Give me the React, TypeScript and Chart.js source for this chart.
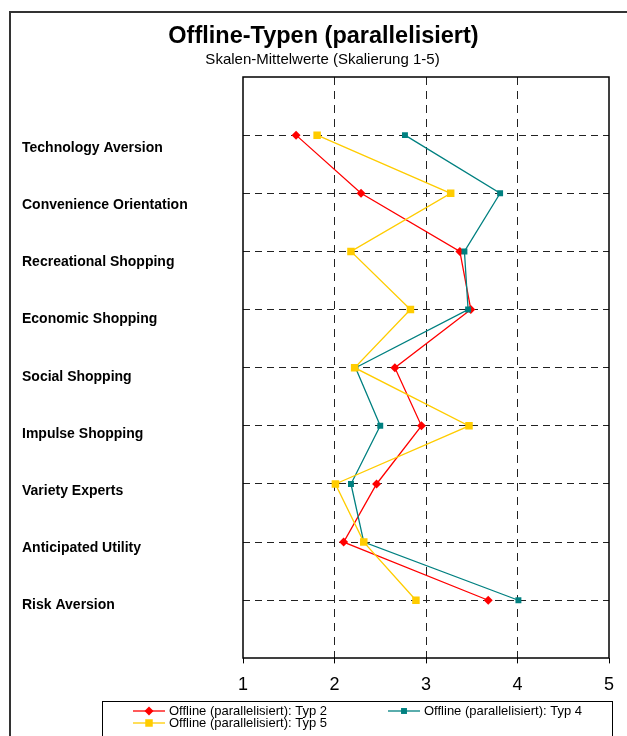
import React, { useEffect, useRef } from "react";
import { Chart, registerables } from "chart.js";

Chart.register(...registerables);

const FONT = '"Liberation Sans", Arial, Helvetica, sans-serif';

const categories = [
  "Technology Aversion",
  "Convenience Orientation",
  "Recreational Shopping",
  "Economic Shopping",
  "Social Shopping",
  "Impulse Shopping",
  "Variety Experts",
  "Anticipated Utility",
  "Risk Aversion",
];

const typ2 = [1.58, 2.29, 3.37, 3.49, 2.66, 2.95, 2.46, 2.1, 3.68];
const typ4 = [2.77, 3.81, 3.42, 3.46, 2.23, 2.5, 2.18, 2.32, 4.01];
const typ5 = [1.81, 3.27, 2.18, 2.83, 2.22, 3.47, 2.01, 2.32, 2.89];

const seriesNames = [
  "Offline (parallelisiert): Typ 2",
  "Offline (parallelisiert): Typ 4",
  "Offline (parallelisiert): Typ 5",
];
const seriesColors = ["#FF0000", "#008080", "#FFCC00"];
const seriesShapes = ["rectRot", "rect", "rect"];
const seriesRadius = [4.5, 4.2, 5.3];

const xTicks = [1, 2, 3, 4, 5];

const titleText = "Offline-Typen (parallelisiert)";
const subtitleText = "Skalen-Mittelwerte (Skalierung 1-5)";

function toPoints(values: number[]) {
  return values.map((v, i) => ({ x: v, y: i + 1 }));
}

function drawMarker(ctx: CanvasRenderingContext2D, shape: string, x: number, y: number, r: number, color: string) {
  ctx.save();
  ctx.fillStyle = color;
  ctx.beginPath();
  if (shape === "rectRot") {
    ctx.moveTo(x - r, y);
    ctx.lineTo(x, y - r);
    ctx.lineTo(x + r, y);
    ctx.lineTo(x, y + r);
    ctx.closePath();
  } else {
    const s = Math.SQRT1_2 * r;
    ctx.rect(x - s, y - s, 2 * s, 2 * s);
  }
  ctx.fill();
  ctx.restore();
}

const framePlugin = {
  id: "framePlugin",
  afterDraw(chart: any) {
    const ctx: CanvasRenderingContext2D = chart.ctx;
    const a = chart.chartArea;
    ctx.save();
    // outer frame
    ctx.strokeStyle = "#333";
    ctx.lineWidth = 2;
    ctx.strokeRect(10, 12, 700, 800);
    // titles
    ctx.fillStyle = "#000";
    ctx.textAlign = "center";
    ctx.textBaseline = "middle";
    ctx.font = `bold 23.5px ${FONT}`;
    ctx.fillText(titleText, 323.5, 37);
    ctx.font = `15px ${FONT}`;
    ctx.fillText(subtitleText, 322.5, 60);
    // plot border
    ctx.strokeStyle = "#000";
    ctx.lineWidth = 1.5;
    ctx.strokeRect(Math.round(a.left), Math.round(a.top), Math.round(a.right - a.left), Math.round(a.bottom - a.top));
    // legend
    ctx.lineWidth = 1;
    ctx.strokeStyle = "#000";
    ctx.strokeRect(102.5, 701.5, 510, 60);
    const items = [
      { x: 133, y: 711 },
      { x: 388, y: 711 },
      { x: 133, y: 723 },
    ];
    ctx.font = `13px ${FONT}`;
    ctx.textBaseline = "middle";
    ctx.textAlign = "left";
    chart.data.datasets.forEach((ds: any, i: number) => {
      const it = items[i];
      ctx.strokeStyle = ds.borderColor;
      ctx.lineWidth = 1.3;
      ctx.beginPath();
      ctx.moveTo(it.x, it.y);
      ctx.lineTo(it.x + 32, it.y);
      ctx.stroke();
      drawMarker(ctx, ds.pointStyle, it.x + 16, it.y, ds.pointRadius, ds.borderColor);
      ctx.fillStyle = "#000";
      ctx.fillText(ds.label, it.x + 36, it.y);
    });
    ctx.restore();
  },
};

export default function App() {
  const ref = useRef<HTMLCanvasElement | null>(null);

  useEffect(() => {
    if (!ref.current) return;
    const valueSets = [typ2, typ4, typ5];
    const chart = new Chart(ref.current, {
      type: "line",
      data: {
        datasets: valueSets.map((vals, i) => ({
          label: seriesNames[i],
          data: toPoints(vals),
          borderColor: seriesColors[i],
          backgroundColor: seriesColors[i],
          borderWidth: 1.3,
          pointStyle: seriesShapes[i] as any,
          pointRadius: seriesRadius[i],
          pointBorderWidth: 0,
          pointBackgroundColor: seriesColors[i],
          tension: 0,
          fill: false,
          order: 3 - i,
          xAxisID: "x",
          yAxisID: "y",
        })),
      },
      options: {
        responsive: false,
        animation: false,
        events: [],
        layout: { padding: { left: 22, right: 18, top: 77, bottom: 29 } },
        plugins: {
          legend: { display: false },
          tooltip: { enabled: false },
          title: { display: false },
          subtitle: { display: false },
        },
        scales: {
          x: {
            type: "linear",
            position: "bottom",
            min: 1,
            max: 5,
            afterBuildTicks: (scale: any) => {
              scale.ticks = xTicks.map((v) => ({ value: v }));
            },
            ticks: {
              color: "#000",
              font: { family: FONT, size: 18 },
              padding: 11,
              autoSkip: false,
              maxRotation: 0,
              callback: (v: any) => String(v),
            },
            grid: {
              color: (c: any) => (c.tick && c.tick.value > 1 && c.tick.value < 5 ? "#222" : "rgba(0,0,0,0)"),
              tickColor: "#000",
              tickLength: 5,
              tickBorderDash: [],
              lineWidth: 1,
            },
            border: { display: false, dash: [8, 6] },
          },
          y: {
            type: "linear",
            position: "left",
            reverse: true,
            min: 0,
            max: 10,
            weight: 0,
            afterBuildTicks: (scale: any) => {
              scale.ticks = [0, ...categories.map((_, i) => i + 1), 10].map((v) => ({ value: v }));
            },
            afterFit: (scale: any) => {
              scale.width = 0;
            },
            ticks: { display: false },
            grid: {
              color: (c: any) => (c.tick && c.tick.value > 0 && c.tick.value < 10 ? "#222" : "rgba(0,0,0,0)"),
              drawTicks: false,
              lineWidth: 1,
            },
            border: { display: false, dash: [7, 5] },
          },
          yLabels: {
            type: "linear",
            position: "left",
            reverse: true,
            min: -0.243,
            max: 9.928,
            weight: 1,
            afterBuildTicks: (scale: any) => {
              scale.ticks = categories.map((_, i) => ({ value: i + 1 }));
            },
            afterFit: (scale: any) => {
              scale.width = 221;
            },
            ticks: {
              color: "#000",
              font: { family: FONT, size: 14, weight: "bold" },
              crossAlign: "far",
              autoSkip: false,
              callback: (v: any) => categories[Number(v) - 1] ?? "",
            },
            grid: { display: false, drawTicks: false },
            border: { display: false },
          },
        },
      },
      plugins: [framePlugin],
    } as any);
    return () => chart.destroy();
  }, []);

  return (
    <div style={{ position: "absolute", left: 0, top: 0, width: 627, height: 736, background: "#fff" }}>
      <canvas ref={ref} width={627} height={736} style={{ display: "block" }} />
    </div>
  );
}
